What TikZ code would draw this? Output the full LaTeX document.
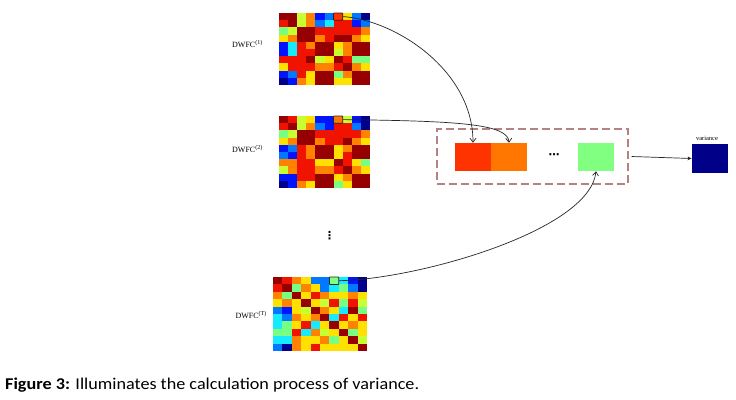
\documentclass[tikz,border=0pt]{standalone}
\usepackage{fontspec}
\setmainfont{Liberation Serif}
\newfontfamily\capfont{Carlito}
\newfontfamily\dejavu{DejaVu Sans}
\usetikzlibrary{arrows.meta}
\definecolor{jet0}{RGB}{0,0,140}
\definecolor{jet1}{RGB}{0,20,255}
\definecolor{jet2}{RGB}{0,120,255}
\definecolor{jet3}{RGB}{20,235,255}
\definecolor{jet4}{RGB}{120,255,130}
\definecolor{jet5}{RGB}{200,255,50}
\definecolor{jet6}{RGB}{255,225,0}
\definecolor{jet7}{RGB}{255,130,0}
\definecolor{jet8}{RGB}{240,20,0}
\definecolor{jet9}{RGB}{150,0,0}
\definecolor{cellA}{RGB}{255,51,0}
\definecolor{cellB}{RGB}{255,119,0}
\definecolor{cellC}{RGB}{128,255,128}
\definecolor{varblue}{RGB}{0,0,136}
\definecolor{dashrose}{RGB}{180,130,130}
% #1 x0, #2 y0, #3 cell width, #4 cell height, #5 rows
\newcommand\jetgrid[5]{%
  \foreach \rw [count=\r from 0] in {#5} {
    \foreach \v [count=\c from 0] in \rw {
      \fill[jet\v] ({#1+\c*#3},{#2+\r*#4}) rectangle ++({#3+0.3},{#4+0.3});
    }
  }%
}
\begin{document}
\begin{tikzpicture}[x=1pt,y=-1pt,
  hl/.style={draw=black!85, line width=0.8pt, rounded corners=0.6pt, inner sep=0pt},
  cell/.style={minimum width=36pt, minimum height=28pt, inner sep=0pt},
  conn/.style={draw=black!85, line width=0.7pt, -{Straight Barb[length=4pt,width=6pt]}},
  lbl/.style={font=\fontsize{8}{9}\selectfont, anchor=base east, inner sep=0pt}]
\useasboundingbox (0,0) rectangle (736,399);
\fill[white] (0,0) rectangle (736,399);

% matrix 1
\jetgrid{279}{13}{9.1}{7.2}{
 {9,9,5,7,1,2,8,6,2,0},
 {8,9,5,7,2,3,8,8,1,2},
 {4,5,9,9,8,8,8,8,8,7},
 {6,7,9,9,7,8,9,9,7,6},
 {1,3,8,7,9,9,6,7,9,9},
 {1,3,8,8,9,9,5,7,9,9},
 {8,8,8,9,5,6,9,8,4,4},
 {6,8,8,8,7,7,8,9,7,6},
 {1,2,8,6,9,9,4,7,9,9},
 {0,1,7,6,9,9,6,6,9,9}}
% matrix 2
\jetgrid{279}{116}{9.1}{7.2}{
 {9,8,5,6,1,1,7,5,1,0},
 {8,9,5,7,2,1,8,8,2,0},
 {4,5,9,9,8,8,8,8,8,7},
 {6,7,9,9,7,8,8,9,7,6},
 {1,2,8,7,9,9,6,7,9,9},
 {2,1,8,7,9,9,6,8,9,9},
 {7,7,8,8,6,6,9,8,6,4},
 {5,7,8,8,7,7,8,9,7,6},
 {1,1,8,8,9,9,6,7,9,9},
 {0,1,7,6,9,9,4,6,9,9}}
% matrix 3
\jetgrid{273}{277}{9.4}{7.4}{
 {9,8,7,6,2,2,4,3,1,0},
 {8,9,4,7,6,2,3,4,2,0},
 {7,4,9,6,8,7,6,6,7,6},
 {6,7,6,9,6,5,8,4,8,5},
 {2,1,6,5,9,7,6,3,9,4},
 {3,2,7,6,7,9,3,8,6,8},
 {3,4,6,8,3,6,9,6,7,6},
 {4,4,8,3,7,5,6,9,4,6},
 {3,3,7,6,6,7,4,6,9,5},
 {2,0,7,6,8,6,6,6,6,9}}

% highlighted cells
\node[hl, fill=cellA, minimum width=9.1pt, minimum height=7.2pt] (h1) at (338.1,16.6) {};
\node[hl, fill=cellB, minimum width=9.1pt, minimum height=7.2pt] (h2) at (338.1,119.6) {};
\node[hl, fill=cellC, minimum width=9.4pt, minimum height=7.6pt] (h3) at (334.1,280.7) {};

% labels
\node[lbl] (l1) at (263,47) {DWFC\textsuperscript{(1)}};
\node[lbl] (l2) at (263,152) {DWFC\textsuperscript{(2)}};
\node[lbl] (l3) at (267,318) {DWFC\textsuperscript{(T)}};
\node[inner sep=0pt, font=\dejavu\bfseries\fontsize{11}{12}\selectfont] (vd) at (329.5,235.5) {⋮};

% group box and cells
\node[draw=dashrose, dash pattern=on 8pt off 4pt, line width=1.1pt,
      minimum width=191pt, minimum height=55pt, inner sep=0pt] (grp) at (532.5,156.5) {};
\node[cell, fill=cellA] (c1) at (473,157) {};
\node[cell, fill=cellB] (c2) at (509,157) {};
\node[cell, fill=cellC] (c3) at (596,157) {};
\node[inner sep=0pt, font=\dejavu\bfseries\fontsize{11}{12}\selectfont] (hd) at (554,156) {⋯};

\node[minimum width=36pt, minimum height=29pt, inner sep=0pt, fill=varblue] (var) at (710,158.5) {};
\node[font=\fontsize{6.5}{7}\selectfont, anchor=base, inner sep=0pt] (vl) at (707,140) {variance};

% connectors
\draw[conn] (h1.east) .. controls (395,20) and (473,70) .. (c1.north);
\draw[conn] (h2.east) .. controls (460,121) and (508,124) .. (c2.north);
\draw[conn] (h3.east) .. controls (420,279) and (590,230) .. (c3.south);
\draw[draw=black!85, line width=0.7pt, -{Latex[length=4pt,width=4pt]}] (grp.east) ++(3pt,0) coordinate (ge) -- (var.west);

% caption
\node[anchor=base west, inner sep=0pt, font=\capfont\fontsize{16.5}{19}\selectfont] (cap) at (5,389)
  {\scalebox{1.1}[1]{\textbf{Figure 3:} Illuminates the calculation process of variance.}};
\end{tikzpicture}
\end{document}
